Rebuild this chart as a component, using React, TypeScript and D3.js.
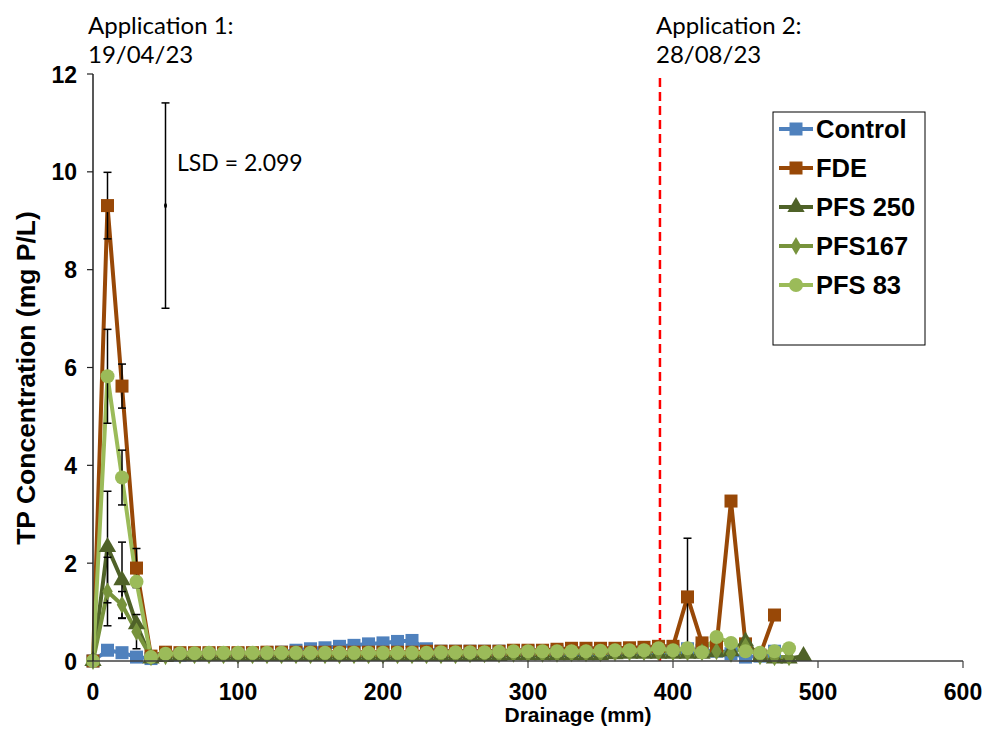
import React from "react";
import * as d3 from "d3";

// drainage (mm) sample points
const drainage = [0, 10, 20, 30, 40, 50, 60, 70, 80, 90, 100, 110, 120, 130, 140, 150, 160, 170, 180, 190, 200, 210, 220, 230, 240, 250, 260, 270, 280, 290, 300, 310, 320, 330, 340, 350, 360, 370, 380, 390, 400, 410, 420, 430, 440, 450, 460, 470, 480, 490];

const control = [0, 0.22, 0.17, 0.08, 0.05, 0.12, 0.12, 0.13, 0.14, 0.15, 0.15, 0.16, 0.17, 0.18, 0.22, 0.25, 0.27, 0.3, 0.32, 0.35, 0.37, 0.4, 0.42, 0.25, 0.2, 0.2, 0.2, 0.2, 0.2, 0.2, 0.2, 0.2, 0.2, 0.18, 0.18, 0.18, 0.18, 0.2, 0.2, 0.22, 0.22, 0.25, 0.22, 0.2, 0.15, 0.08, 0.1, 0.2];
const fde = [0, 9.31, 5.62, 1.9, 0.1, 0.18, 0.17, 0.17, 0.17, 0.17, 0.17, 0.17, 0.18, 0.18, 0.18, 0.18, 0.18, 0.18, 0.18, 0.18, 0.18, 0.18, 0.18, 0.2, 0.2, 0.2, 0.2, 0.2, 0.2, 0.22, 0.22, 0.22, 0.24, 0.26, 0.26, 0.26, 0.26, 0.27, 0.28, 0.3, 0.3, 1.31, 0.37, 0.3, 3.27, 0.35, 0.12, 0.94];
const pfs250 = [0, 2.33, 1.65, 0.75, 0.05, 0.08, 0.1, 0.1, 0.1, 0.1, 0.1, 0.1, 0.1, 0.1, 0.1, 0.1, 0.1, 0.1, 0.1, 0.1, 0.1, 0.1, 0.1, 0.1, 0.1, 0.1, 0.1, 0.1, 0.1, 0.12, 0.12, 0.12, 0.12, 0.12, 0.12, 0.12, 0.14, 0.15, 0.15, 0.15, 0.15, 0.15, 0.15, 0.18, 0.2, 0.4, 0.08, 0.05, 0.05, 0.1];
const pfs167 = [0, 1.42, 1.15, 0.6, 0.08, 0.1, 0.12, 0.12, 0.12, 0.12, 0.12, 0.12, 0.12, 0.12, 0.12, 0.12, 0.12, 0.12, 0.12, 0.12, 0.12, 0.12, 0.12, 0.12, 0.12, 0.12, 0.14, 0.14, 0.14, 0.15, 0.15, 0.15, 0.15, 0.16, 0.16, 0.16, 0.17, 0.18, 0.18, 0.18, 0.18, 0.18, 0.18, 0.2, 0.15, 0.3, 0.1, 0.08, 0.08];
const pfs83 = [0, 5.82, 3.75, 1.62, 0.08, 0.15, 0.16, 0.16, 0.17, 0.17, 0.17, 0.17, 0.17, 0.17, 0.17, 0.17, 0.17, 0.17, 0.17, 0.17, 0.17, 0.17, 0.17, 0.17, 0.18, 0.18, 0.18, 0.18, 0.19, 0.2, 0.2, 0.2, 0.2, 0.2, 0.2, 0.21, 0.22, 0.22, 0.22, 0.26, 0.22, 0.26, 0.18, 0.49, 0.37, 0.2, 0.17, 0.2, 0.26];

// error bars: [series index, drainage, half-width]
const errorBars: [number, number, number][] = [
  [1, 10, 0.68], [1, 20, 0.45], [1, 30, 0.4],
  [4, 10, 0.96], [4, 20, 0.56],
  [2, 10, 1.14], [2, 20, 0.78],
  [3, 10, 0.7], [3, 20, 0.27], [3, 30, 0.35],
  [1, 410, 1.2],
];

const lsdValue = 2.099;
const lsdX = 50;
const lsdCenter = 9.31;
const application2X = 391;

const xTicks = [0, 100, 200, 300, 400, 500, 600];
const yTicks = [0, 2, 4, 6, 8, 10, 12];

const seriesNames = ["Control", "FDE", "PFS 250", "PFS167", "PFS 83"];
const seriesValues = [control, fde, pfs250, pfs167, pfs83];
const seriesColors = ["#4F81BD", "#984807", "#4F6228", "#77933C", "#9BBB59"];
const seriesMarkers = ["square", "square", "triangle", "diamond", "circle"];

const W = 985;
const H = 729;

function Marker({ type, x, y, color }: { type: string; x: number; y: number; color: string }) {
  if (type === "square") return <rect x={x - 6.5} y={y - 6.5} width={13} height={13} fill={color} />;
  if (type === "circle") return <circle cx={x} cy={y} r={7} fill={color} />;
  const sym = d3.symbol().type(type === "triangle" ? d3.symbolTriangle : d3.symbolDiamond).size(type === "triangle" ? 130 : 95);
  return <path d={sym() || ""} transform={`translate(${x},${y})`} fill={color} />;
}

export default function App() {
  const x = d3.scaleLinear().domain([0, 600]).range([93, 963]);
  const y = d3.scaleLinear().domain([0, 12]).range([661, 74]);
  const line = d3.line<[number, number]>().x((d) => x(d[0])).y((d) => y(d[1]));

  const font = "'Liberation Sans', Arial, sans-serif";
  const noteFont = "Lato, 'Open Sans', sans-serif";

  return (
    <svg width={W} height={H} style={{ position: "absolute", left: 0, top: 0, background: "#fff" }}>
      <rect width={W} height={H} fill="#fff" />
      {/* annotations */}
      <text x={88} y={34} fontFamily={noteFont} fontSize={24}>Application 1:</text>
      <text x={88} y={63} fontFamily={noteFont} fontSize={24}>19/04/23</text>
      <text x={656} y={34} fontFamily={noteFont} fontSize={24}>Application 2:</text>
      <text x={656} y={63} fontFamily={noteFont} fontSize={24}>28/08/23</text>

      {/* application 2 line */}
      <line x1={x(application2X)} x2={x(application2X)} y1={78} y2={y(0)} stroke="#FF0000" strokeWidth={2.5} strokeDasharray="9,5" />

      {/* series lines */}
      {seriesValues.map((vals, i) => (
        <path key={"l" + i} d={line(vals.map((v, j) => [drainage[j], v] as [number, number])) || ""} fill="none" stroke={seriesColors[i]} strokeWidth={4} strokeLinejoin="round" />
      ))}

      {/* error bars */}
      {errorBars.map(([s, dx, e], k) => {
        const v = seriesValues[s][drainage.indexOf(dx)];
        return (
          <g key={"e" + k} stroke="#000" strokeWidth={1.5}>
            <line x1={x(dx)} x2={x(dx)} y1={y(v - e)} y2={y(v + e)} />
            <line x1={x(dx) - 4} x2={x(dx) + 4} y1={y(v - e)} y2={y(v - e)} />
            <line x1={x(dx) - 4} x2={x(dx) + 4} y1={y(v + e)} y2={y(v + e)} />
          </g>
        );
      })}

      {/* markers */}
      {seriesValues.map((vals, i) => (
        <g key={"m" + i}>
          {vals.map((v, j) => (
            <Marker key={j} type={seriesMarkers[i]} x={x(drainage[j])} y={y(v)} color={seriesColors[i]} />
          ))}
        </g>
      ))}

      {/* LSD bar */}
      <g stroke="#000" strokeWidth={1.5}>
        <line x1={x(lsdX)} x2={x(lsdX)} y1={y(lsdCenter - lsdValue)} y2={y(lsdCenter + lsdValue)} />
        <line x1={x(lsdX) - 4} x2={x(lsdX) + 4} y1={y(lsdCenter - lsdValue)} y2={y(lsdCenter - lsdValue)} />
        <line x1={x(lsdX) - 4} x2={x(lsdX) + 4} y1={y(lsdCenter + lsdValue)} y2={y(lsdCenter + lsdValue)} />
      </g>
      <ellipse cx={x(lsdX)} cy={y(lsdCenter)} rx={1.5} ry={2.5} fill="#000" />
      <text x={177} y={171} fontFamily={noteFont} fontSize={23}>LSD = {lsdValue}</text>

      {/* axes */}
      <line x1={x(0)} x2={x(600)} y1={y(0)} y2={y(0)} stroke="#404040" strokeWidth={1.5} />
      <line x1={x(0)} x2={x(0)} y1={y(0)} y2={y(12)} stroke="#202020" strokeWidth={1.5} />
      {xTicks.map((t) => (
        <g key={"xt" + t}>
          <line x1={x(t)} x2={x(t)} y1={y(0)} y2={y(0) + 7} stroke="#404040" strokeWidth={1.2} />
          <text x={x(t)} y={700} textAnchor="middle" fontFamily={font} fontWeight="bold" fontSize={23}>{t}</text>
        </g>
      ))}
      {yTicks.map((t) => (
        <g key={"yt" + t}>
          <line x1={x(0) - 6} x2={x(0)} y1={y(t)} y2={y(t)} stroke="#202020" strokeWidth={1.2} />
          <text x={77} y={y(t) + 8.5} textAnchor="end" fontFamily={font} fontWeight="bold" fontSize={23}>{t}</text>
        </g>
      ))}
      <text x={578} y={722} textAnchor="middle" fontFamily={font} fontWeight="bold" fontSize={21}>Drainage (mm)</text>
      <text transform={`translate(35,${378}) rotate(-90)`} textAnchor="middle" fontFamily={font} fontWeight="bold" fontSize={26.5}>TP Concentration (mg P/L)</text>

      {/* legend */}
      <rect x={773} y={112} width={152} height={233} fill="#fff" stroke="#000" strokeWidth={1} />
      {seriesNames.map((n, i) => {
        const ly = 129 + i * 39;
        return (
          <g key={"lg" + i}>
            <line x1={779} x2={813} y1={ly} y2={ly} stroke={seriesColors[i]} strokeWidth={4} />
            <Marker type={seriesMarkers[i]} x={796} y={ly} color={seriesColors[i]} />
            <text x={816} y={ly + 9} fontFamily={font} fontWeight="bold" fontSize={25.5}>{n}</text>
          </g>
        );
      })}
    </svg>
  );
}
